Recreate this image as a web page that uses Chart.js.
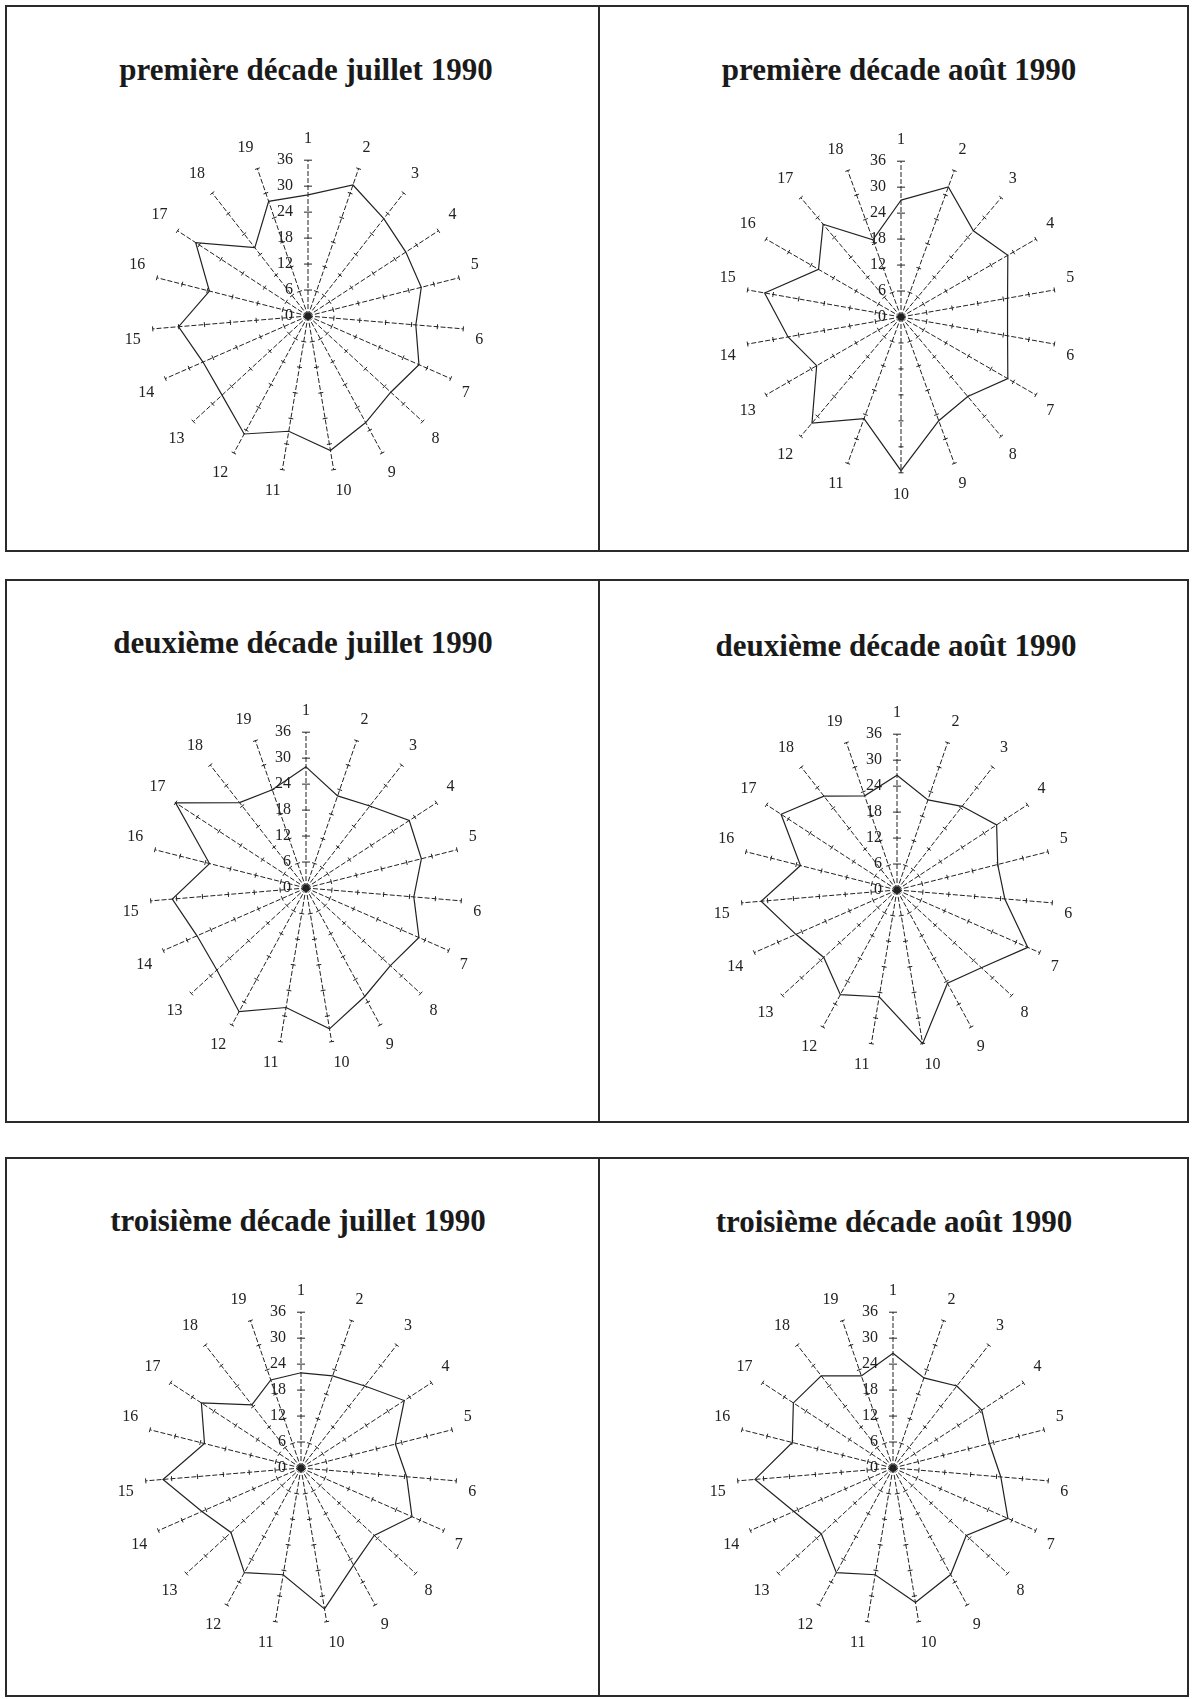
<!DOCTYPE html>
<html lang="fr">
<head>
<meta charset="utf-8">
<title>Décades juillet – août 1990</title>
<script src="https://cdn.jsdelivr.net/npm/chart.js@4.4.1/dist/chart.umd.min.js"></script>
<style>
  html, body { margin: 0; padding: 0; background: #fff; }
  body { width: 1192px; height: 1699px; position: relative; overflow: hidden; font-family: 'Liberation Serif', 'Times New Roman', serif; }
  .box { position: absolute; border: 2px solid #2a2a2a; box-sizing: border-box; }
  .titre { position: absolute; width: 560px; text-align: center; font-weight: bold; font-size: 31px; line-height: 34px; color: #1a1a1a; }
  canvas { position: absolute; }
</style>
</head>
<body>
<div id="page"></div>
<script>
// Axes des diagrammes (19 branches, 18 pour la 1re décade d'août)
const axes19 = ['1', '2', '3', '4', '5', '6', '7', '8', '9', '10', '11', '12', '13', '14', '15', '16', '17', '18', '19'];
const axes18 = ['1', '2', '3', '4', '5', '6', '7', '8', '9', '10', '11', '12', '13', '14', '15', '16', '17', '18'];

// Graduation commune (0 à 36, pas de 6)
const tickValues = [0, 6, 12, 18, 24, 30, 36];

// Valeurs par décade
const juillet1 = [28, 32, 28.5, 27, 27, 25, 28, 26, 28, 31.5, 27, 31, 27, 26.5, 30, 23.5, 31, 20, 28];
const aout1    = [27, 32, 26, 28.5, 25, 25, 28.5, 24, 25.5, 35.5, 25, 32, 22.5, 26.5, 32, 22, 28, 19];
const juillet2 = [28, 22.5, 24, 28.5, 27.5, 25, 28.5, 26.5, 28.5, 33, 28, 32.5, 28, 27.5, 31, 23, 36, 25, 24];
const aout2    = [26.5, 22, 24.5, 27.5, 24, 25, 33, 26.5, 24.5, 36, 25, 27.5, 23, 25.5, 31.5, 23, 32, 27.5, 23];
const juillet3 = [22, 22.5, 24, 28.5, 22.5, 24.5, 28, 23, 25.5, 33, 25, 27.5, 22, 25, 32, 23, 27.5, 18.5, 21.5];
const aout3    = [26.5, 22, 24, 24.5, 23, 25, 29, 23, 28, 31.5, 25, 27.5, 22.5, 25, 32, 24, 27.5, 27, 22.5];

// Cadres, titres (centre x, haut) et centres des six diagrammes (px)
const panels = [
    { title: 'première décade juillet 1990',  labels: axes19, values: juillet1, box: [5, 5, 595, 547],     tx: 306, ty: 53,   c: [304, 315] },
    { title: 'première décade août 1990',     labels: axes18, values: aout1,    box: [598, 5, 591, 547],   tx: 899, ty: 53,   c: [897, 317] },
    { title: 'deuxième décade juillet 1990',  labels: axes19, values: juillet2, box: [5, 579, 595, 544],   tx: 303, ty: 626,  c: [302, 887] },
    { title: 'deuxième décade août 1990',     labels: axes19, values: aout2,    box: [598, 579, 591, 544], tx: 896, ty: 629,  c: [893, 889] },
    { title: 'troisième décade juillet 1990', labels: axes19, values: juillet3, box: [5, 1157, 595, 540],  tx: 298, ty: 1204, c: [297, 1467] },
    { title: 'troisième décade août 1990',    labels: axes19, values: aout3,    box: [598, 1157, 591, 540],tx: 894, ty: 1205, c: [889, 1467] }
];

const INK = '#222222';
const SIZE = 440;

// Graduations : petits traits sur chaque branche, libellés à gauche de l'axe 1
const graduations = {
    id: 'graduations',
    afterDraw(chart) {
        const s = chart.scales.r;
        const ctx = chart.ctx;
        const n = chart.data.labels.length;
        ctx.save();
        ctx.strokeStyle = INK;
        ctx.lineWidth = 1;
        for (let i = 0; i < n; i++) {
            const a = s.getIndexAngle(i);
            const px = Math.cos(a), py = Math.sin(a);
            const h = i === 0 ? 4 : 2.5;
            tickValues.forEach((v) => {
                if (!v) return;
                const p = s.getPointPositionForValue(i, v);
                ctx.beginPath();
                ctx.moveTo(p.x - px * h, p.y - py * h);
                ctx.lineTo(p.x + px * h, p.y + py * h);
                ctx.stroke();
            });
        }
        // point central
        ctx.fillStyle = INK;
        ctx.beginPath();
        ctx.arc(s.xCenter, s.yCenter, 3.5, 0, Math.PI * 2);
        ctx.fill();
        // libellés de la graduation
        ctx.font = '16px "Liberation Serif"';
        ctx.textAlign = 'right';
        ctx.textBaseline = 'middle';
        tickValues.forEach((v) => {
            const p = s.getPointPositionForValue(0, v);
            ctx.fillText(String(v), p.x - 15, p.y);
        });
        ctx.restore();
    }
};

const page = document.getElementById('page');

panels.forEach((pn) => {
    const box = document.createElement('div');
    box.className = 'box';
    Object.assign(box.style, { left: pn.box[0] + 'px', top: pn.box[1] + 'px', width: pn.box[2] + 'px', height: pn.box[3] + 'px' });
    page.appendChild(box);

    const t = document.createElement('div');
    t.className = 'titre';
    t.textContent = pn.title;
    t.style.left = (pn.tx - 280) + 'px';
    t.style.top = pn.ty + 'px';
    page.appendChild(t);

    const cv = document.createElement('canvas');
    cv.width = SIZE; cv.height = SIZE;
    cv.style.left = (pn.c[0] - SIZE / 2) + 'px';
    cv.style.top = (pn.c[1] - SIZE / 2) + 'px';
    page.appendChild(cv);

    new Chart(cv, {
        type: 'radar',
        data: {
            labels: pn.labels,
            datasets: [{ data: pn.values, borderColor: INK, borderWidth: 1.2, fill: false, pointRadius: 0, tension: 0 }]
        },
        options: {
            responsive: false,
            animation: false,
            devicePixelRatio: 1,
            layout: { padding: 33 },
            plugins: { legend: { display: false }, tooltip: { enabled: false } },
            scales: {
                r: {
                    min: 0, max: 36,
                    ticks: { display: false, stepSize: 6 },
                    grid: { display: false },
                    angleLines: { color: INK, lineWidth: 1, borderDash: [5, 2] },
                    pointLabels: { color: INK, padding: 12, font: { family: 'Liberation Serif', size: 16 } }
                }
            }
        },
        plugins: [graduations]
    });
});
</script>
</body>
</html>
